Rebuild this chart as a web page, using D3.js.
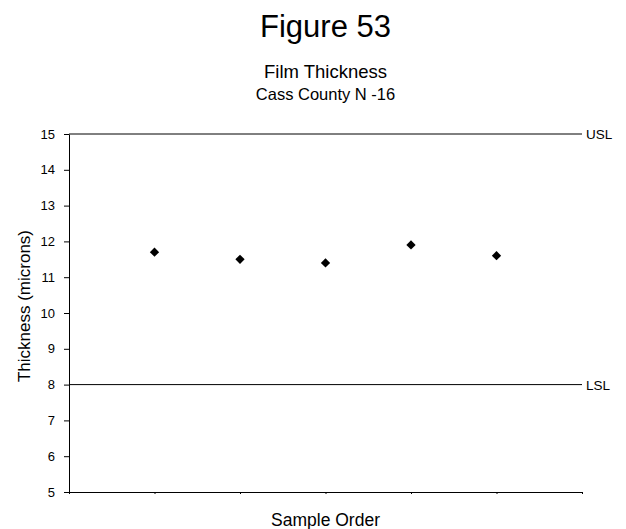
<!DOCTYPE html>
<html><head><meta charset="utf-8">
<script src="https://cdn.jsdelivr.net/npm/d3@7"></script>
<style>body{margin:0;background:#fff}</style>
</head><body>
<svg id="c" width="626" height="529"></svg>
<script>
const samples = [1, 2, 3, 4, 5];
const thickness = [11.7, 11.5, 11.4, 11.9, 11.6];
const yTicks = [5, 6, 7, 8, 9, 10, 11, 12, 13, 14, 15];
const limits = [{name: "USL", value: 15}, {name: "LSL", value: 8}];

(function () {
const svg = d3.select("#c");
const font = "Arial, 'Liberation Sans', sans-serif";
const pl = 69, pr = 582, pt = 134, pb = 492;
const cx = (pl + pr) / 2;
const x = d3.scaleLinear().domain([0, 6]).range([pl, pr]);
const y = d3.scaleLinear().domain([5, 15]).range([pb, pt]);

svg.append("text").attr("x", cx).attr("y", 37).attr("text-anchor", "middle")
  .attr("font-family", font).attr("font-size", 31).text("Figure 53");
svg.append("text").attr("x", cx).attr("y", 77.5).attr("text-anchor", "middle")
  .attr("font-family", font).attr("font-size", 18.5).text("Film Thickness");
svg.append("text").attr("x", cx).attr("y", 99.5).attr("text-anchor", "middle")
  .attr("font-family", font).attr("font-size", 16.5).text("Cass County N -16");

const ya = svg.append("g").attr("transform", `translate(${pl},0)`)
  .call(d3.axisLeft(y).tickValues(yTicks).tickSize(5).tickPadding(9).tickSizeOuter(0));
ya.select(".domain").attr("stroke", "#000");
ya.selectAll("line").attr("stroke", "#000");
ya.selectAll("text").attr("font-family", font).attr("font-size", 13).attr("fill", "#000");

const xa = svg.append("g").attr("transform", `translate(0,${pb})`)
  .call(d3.axisBottom(x).tickValues(d3.range(0, 7)).tickSize(2).tickFormat("").tickSizeOuter(0));
xa.select(".domain").attr("stroke", "#000");
xa.selectAll("line").attr("stroke", "#000");

limits.forEach(l => {
  svg.append("line").attr("x1", pl).attr("x2", pr)
    .attr("y1", y(l.value)).attr("y2", y(l.value)).attr("stroke", "#000").attr("stroke-width", 1);
  svg.append("text").attr("x", 586).attr("y", y(l.value) + 5)
    .attr("font-family", font).attr("font-size", 13.5).text(l.name);
});

svg.append("g").selectAll("path").data(samples).join("path")
  .attr("d", d3.symbol().type(d3.symbolDiamond2).size(55))
  .attr("transform", (d, i) => `translate(${x(d)},${y(thickness[i])})`)
  .attr("fill", "#000");

svg.append("text").attr("transform", `translate(30,306) rotate(-90)`)
  .attr("text-anchor", "middle").attr("font-family", font).attr("font-size", 17).text("Thickness (microns)");
svg.append("text").attr("x", cx).attr("y", 526).attr("text-anchor", "middle")
  .attr("font-family", font).attr("font-size", 17.5).text("Sample Order");
})();
</script>
</body></html>
